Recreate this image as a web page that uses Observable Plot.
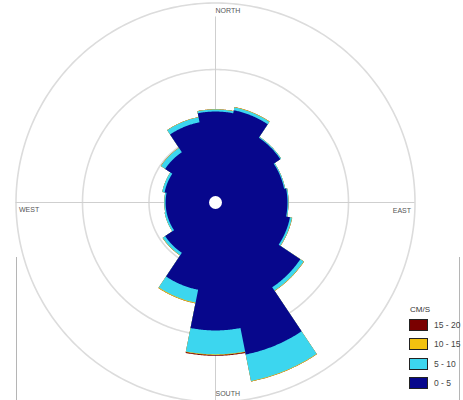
<!DOCTYPE html>
<html><head><meta charset="utf-8">
<script src="https://cdn.jsdelivr.net/npm/d3@7"></script>
<script src="https://cdn.jsdelivr.net/npm/@observablehq/plot@0.6"></script>
<style>
body{margin:0;background:#fff;}
#wrap{position:relative;width:463px;height:400px;overflow:hidden;font-family:"Liberation Sans",Arial,sans-serif;background:#fff;}
#wrap svg{position:absolute;left:0;top:0;}
#frame{position:absolute;left:16px;top:257px;width:442px;height:160px;border-left:1px solid #b5b5b5;border-right:1px solid #b5b5b5;}
#legend{position:absolute;left:409px;top:305px;font-size:8.5px;color:#444;white-space:nowrap;}
#legend .t{margin:0 0 5px 1px;font-size:8px;color:#333;}
#legend .row{display:flex;align-items:center;height:12px;margin-bottom:7.3px;}
#legend .sw{width:19px;height:12px;border:1px solid #222;box-sizing:border-box;margin-right:6px;}
</style></head><body>
<div id="wrap"><div id="frame"></div></div>
<script>
// ---- data (percent of time per direction and speed class) ----
const directions = ["N","NNE","NE","ENE","E","ESE","SE","SSE","S","SSW","SW","WSW","W","WNW","NW","NNW"];
const bins = ["0 - 5","5 - 10","10 - 15","15 - 20"];
const binColors = ["#07078c","#3cd6ef","#f2c20f","#7a0000"];
const speed0_5   = [6.84,7.07,5.86,5.26,5.41,5.71,7.67,11.65,9.62,6.69,4.55,3.75,3.75,3.9,4.55,6.15];
const speed5_10  = [0.15,0.22,0.08,0.08,0.08,0.15,0.30,2.03,1.80,0.98,0.22,0.15,0.10,0.18,0.38,0.38];
const speed10_15 = [0.02,0.03,0,0,0,0.02,0.03,0.04,0.04,0.06,0.02,0,0,0,0.02,0.02];
const speed15_20 = [0,0,0,0,0,0,0,0,0.07,0,0,0,0,0,0,0];
const gridRadii = [5,10,15];
const cardinalLabels = ["NORTH","EAST","SOUTH","WEST"];
const legendTitle = "CM/S";

const series = [speed0_5, speed5_10, speed10_15, speed15_20];
const rad = d => d*Math.PI/180;
const step = 360/directions.length;

// cumulative layers: one closed outline per speed class, drawn outermost first
const pts = [];
for (let j = bins.length-1; j >= 0; j--) {
  directions.forEach((d,i)=>{
    let R = 0;
    for (let m=0; m<=j; m++) R += series[m][i];
    const a0 = i*step - step/2, a1 = i*step + step/2;
    for (let a=a0; a<=a1+1e-9; a+=0.5) pts.push({layer:j, bin:bins[j], x:R*Math.sin(rad(a)), y:R*Math.cos(rad(a))});
  });
}

// grid circles
const circ = [];
gridRadii.forEach(r=>{ for(let a=0;a<=360;a+=1) circ.push({r, x:r*Math.sin(rad(a)), y:r*Math.cos(rad(a))}); });
const rMax = gridRadii[gridRadii.length-1];

const k = 13.3; // px per unit
const cx = 215, cy = 202, W = 463, H = 400;

const font = "Liberation Sans, Arial, sans-serif";
const plot = Plot.plot({
  width: W, height: H, margin: 0,
  x: {domain: [-cx/k, (W-cx)/k], axis: null},
  y: {domain: [-(H-cy)/k, cy/k], axis: null},
  color: {domain: bins, range: binColors},
  style: {background: "transparent"},
  marks: [
    Plot.line(circ, {x:"x", y:"y", z:"r", stroke:"#dcdcdc", strokeWidth:1.6}),
    Plot.ruleY([0], {x1:-rMax, x2:rMax, stroke:"#cfcfcf", strokeWidth:1}),
    Plot.ruleX([0], {y1:rMax*0.93, y2:-rMax*1.2, stroke:"#cfcfcf", strokeWidth:1}),
    Plot.line(pts, {x:"x", y:"y", z:"layer", fill:"bin", stroke:"none"}),
    Plot.dot([{x:0,y:0}], {x:"x", y:"y", r:6.5, fill:"white", stroke:"none"}),
    Plot.text([cardinalLabels[0]], {x:0, y:rMax*0.96, text:d=>d, textAnchor:"start", fontSize:7, fill:"#555", fontFamily:font}),
    Plot.text([cardinalLabels[2]], {x:0, y:-rMax*0.96, text:d=>d, textAnchor:"start", fontSize:7, fill:"#555", fontFamily:font}),
    Plot.text([cardinalLabels[1]], {x:rMax*0.98, y:0, dy:8, text:d=>d, textAnchor:"end", fontSize:7, fill:"#555", fontFamily:font}),
    Plot.text([cardinalLabels[3]], {x:-rMax*0.985, y:0, dy:7, text:d=>d, textAnchor:"start", fontSize:7, fill:"#555", fontFamily:font})
  ]
});
const wrap = document.getElementById("wrap");
wrap.insertBefore(plot, wrap.firstChild);

// legend
const lg = document.createElement("div");
lg.id = "legend";
lg.innerHTML = `<div class="t">${legendTitle}</div>` + bins.map((b,i)=>({b, c:binColors[i]})).reverse()
  .map(o=>`<div class="row"><div class="sw" style="background:${o.c}"></div><span>${o.b}</span></div>`).join("");
wrap.appendChild(lg);
</script>
</body></html>
